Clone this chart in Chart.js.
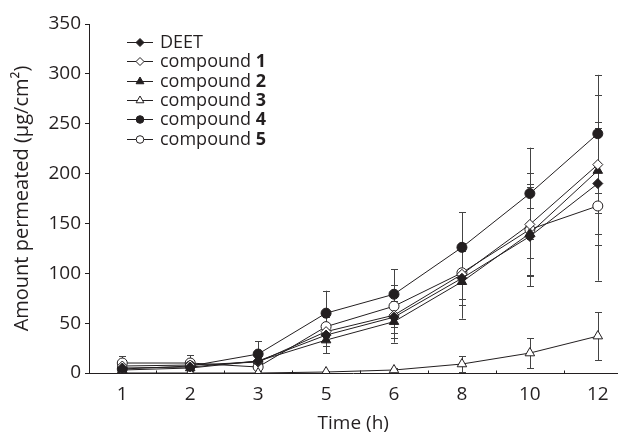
<!DOCTYPE html>
<html>
<head>
<meta charset="utf-8">
<script src="https://cdn.jsdelivr.net/npm/chart.js@4/dist/chart.umd.min.js"></script>
<style>
html,body{margin:0;padding:0;background:#fff;}
#wrap{width:624px;height:435px;}
</style>
</head>
<body>
<div id="wrap"><canvas id="c" width="624" height="435"></canvas></div>
<script>
// ---- data ----
const times = ['1','2','3','5','6','8','10','12'];
const deet  = [5, 6, 12, 38, 56, 95, 137, 190];
const cmp1  = [7, 8, 11, 41.5, 58, 99, 149, 209];
const cmp2  = [3, 5, 12, 33, 51.5, 91.5, 140, 203];
const cmp3  = [0, 0, 0, 1, 3, 9, 20, 37];
const cmp4  = [4, 7, 19, 60, 79, 126, 180, 240];
const cmp5  = [10, 10, 6, 46.5, 67, 100.5, 144, 167.5];
const deetErr = [3, 3, 4, 11, 21, 27, 50, 62];
const cmp1Err = [3, 3, 4, 9, 18, 31, 52, 70];
const cmp2Err = [2, 3, 4, 13, 21, 37, 25, 43];
const cmp3Err = [0, 0, 0, 1, 2, 8, 15, 24];
const cmp4Err = [3, 4, 13, 22.5, 25, 35, 46, 59];
const cmp5Err = [7, 8, 4, 10, 21, 26, 46, 75];
const yTicks = [0, 50, 100, 150, 200, 250, 300, 350];
const legendNames = [['DEET',''],['compound ','1'],['compound ','2'],['compound ','3'],['compound ','4'],['compound ','5']];

const FONT = '"Open Sans", "Noto Sans", sans-serif';
const INK = '#231f20';

function mk(label, vals, errs, style, filled, radius, legR){
  return {
    label: label,
    data: vals.map((v,i)=>({x:i, y:v})),
    errors: errs,
    legendRadius: legR,
    borderColor: INK,
    borderWidth: 1,
    pointStyle: style,
    pointRadius: radius,
    pointHoverRadius: radius,
    pointBackgroundColor: filled ? INK : '#fff',
    pointBorderColor: INK,
    pointBorderWidth: 1,
    fill: false,
    tension: 0
  };
}
const datasets = [
  mk('DEET', deet, deetErr, 'rectRot', true, 5, 4),
  mk('compound 1', cmp1, cmp1Err, 'rectRot', false, 5, 4),
  mk('compound 2', cmp2, cmp2Err, 'triangle', true, 5.5, 4.5),
  mk('compound 3', cmp3, cmp3Err, 'triangle', false, 5.5, 4.5),
  mk('compound 4', cmp4, cmp4Err, 'circle', true, 5, 3.8),
  mk('compound 5', cmp5, cmp5Err, 'circle', false, 5, 3.8)
];

const errorBars = {
  id: 'errorBars',
  beforeDatasetsDraw(chart){
    const ctx = chart.ctx, xs = chart.scales.x, ys = chart.scales.y;
    ctx.save();
    ctx.strokeStyle = '#444';
    ctx.lineWidth = 1;
    chart.data.datasets.forEach(ds=>{
      ds.data.forEach((p,i)=>{
        const e = ds.errors[i];
        if(!e) return;
        const x = Math.round(xs.getPixelForValue(p.x)) + 0.5;
        const y1 = ys.getPixelForValue(p.y + e);
        const y2 = ys.getPixelForValue(Math.max(0, p.y - e));
        ctx.beginPath();
        ctx.moveTo(x, y1); ctx.lineTo(x, y2);
        ctx.moveTo(x-3.5, Math.round(y1)+0.5); ctx.lineTo(x+3.5, Math.round(y1)+0.5);
        if (p.y - e > 0){ ctx.moveTo(x-3.5, Math.round(y2)+0.5); ctx.lineTo(x+3.5, Math.round(y2)+0.5); }
        ctx.stroke();
      });
    });
    ctx.restore();
  },
  afterDraw(chart){
    const ctx = chart.ctx, xs = chart.scales.x, ys = chart.scales.y;
    ctx.save();
    ctx.strokeStyle = INK; ctx.lineWidth = 1;
    // minor inward ticks on x axis between categories
    const yb = Math.round(ys.getPixelForValue(0)) + 0.5;
    for(let i=0;i<times.length-1;i++){
      const x = Math.round(xs.getPixelForValue(i+0.5)) + 0.5;
      ctx.beginPath(); ctx.moveTo(x, yb); ctx.lineTo(x, yb-3); ctx.stroke();
    }
    // legend
    const lx0 = 127, lx1 = 153, tx = 160;
    const ly = 42, step = 19.3;
    chart.data.datasets.forEach((ds,k)=>{
      const y = Math.round(ly + k*step) + 0.5;
      ctx.strokeStyle = INK; ctx.lineWidth = 1;
      ctx.beginPath(); ctx.moveTo(lx0, y); ctx.lineTo(lx1, y); ctx.stroke();
      ctx.fillStyle = ds.pointBackgroundColor; ctx.strokeStyle = INK; ctx.lineWidth = 1;
      Chart.helpers.drawPoint(ctx, {pointStyle: ds.pointStyle, radius: ds.legendRadius, borderWidth:1, rotation:0}, (lx0+lx1)/2, y);
      ctx.fillStyle = INK;
      ctx.font = '18px ' + FONT;
      ctx.textBaseline = 'middle';
      ctx.textAlign = 'left';
      const [a,b] = legendNames[k];
      ctx.fillText(a, tx, y);
      const w = ctx.measureText(a).width;
      ctx.font = 'bold 18px ' + FONT;
      ctx.fillText(b, tx + w, y);
    });
    ctx.restore();
  }
};

new Chart(document.getElementById('c'), {
  type: 'line',
  data: { datasets: datasets },
  options: {
    responsive: false,
    animation: false,
    devicePixelRatio: 1,
    layout: { padding: { left: 0, right: 1, top: 24, bottom: 0 } },
    plugins: { legend: { display: false }, tooltip: { enabled: false } },
    scales: {
      x: {
        type: 'linear',
        min: -0.49, max: 7.29,
        afterBuildTicks(s){ s.ticks = times.map((t,i)=>({value:i})); },
        afterFit(s){ s.height = 62; },
        grid: { display: false, drawTicks: false },
        border: { display: true, color: INK, width: 1 },
        ticks: {
          color: INK, padding: 10, autoSkip: false, maxRotation: 0,
          font: { family: FONT, size: 19 },
          callback: (v)=> times[v] !== undefined ? times[v] : ''
        },
        title: { display: true, text: 'Time (h)', color: INK, font: { family: FONT, size: 19 }, padding: { top: 0, bottom: 0 } }
      },
      y: {
        min: 0, max: 350,
        afterBuildTicks(s){ s.ticks = yTicks.map(v=>({value:v})); },
        afterFit(s){ s.width = 89; },
        grid: { display: true, drawOnChartArea: false, drawTicks: true, tickLength: 4, color: INK },
        border: { display: true, color: INK, width: 1 },
        ticks: { color: INK, padding: 4, font: { family: FONT, size: 19 } },
        title: { display: true, text: 'Amount permeated (μg/cm²)', color: INK, font: { family: FONT, size: 20 }, padding: { top: 10, bottom: 4 } }
      }
    }
  },
  plugins: [errorBars]
});
</script>
</body>
</html>
